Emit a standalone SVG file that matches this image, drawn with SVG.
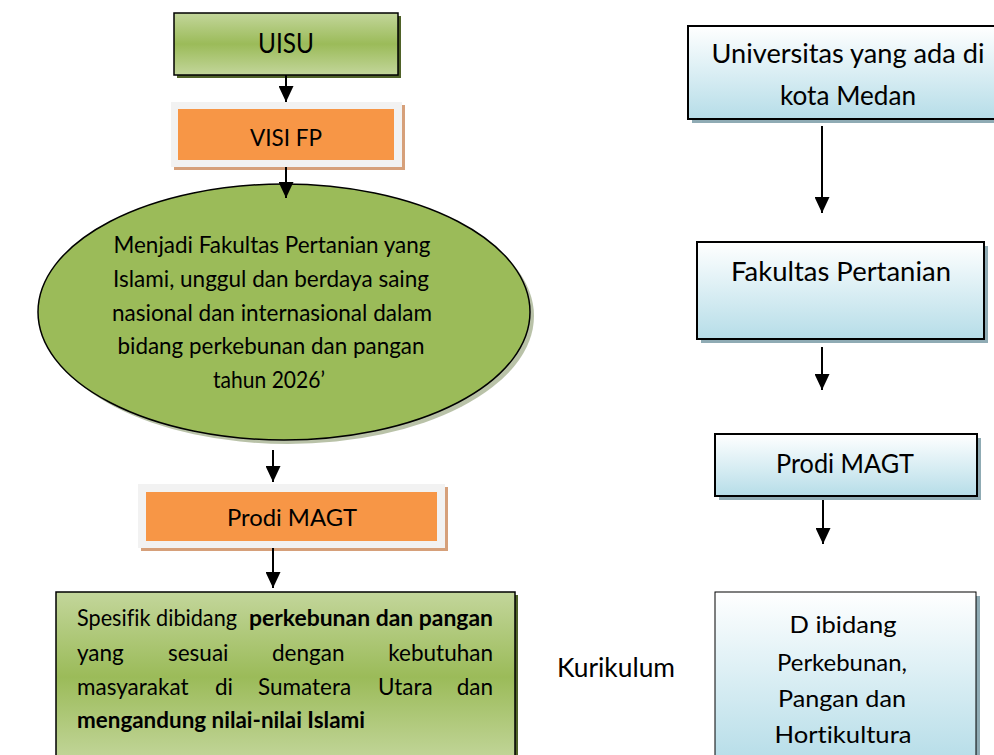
<svg xmlns="http://www.w3.org/2000/svg" width="994" height="755" viewBox="0 0 994 755">
<defs>
<linearGradient id="gGreen" x1="0" y1="0" x2="0" y2="1">
<stop offset="0" stop-color="#c3d69b"/>
<stop offset="0.5" stop-color="#9bbb59"/>
<stop offset="1" stop-color="#c3d69b"/>
</linearGradient>
<linearGradient id="gBlue" x1="0" y1="0" x2="0" y2="1">
<stop offset="0" stop-color="#ffffff"/>
<stop offset="0.45" stop-color="#def0f5"/>
<stop offset="1" stop-color="#b6dde8"/>
</linearGradient>
<marker id="arr" viewBox="0 0 16 15" refX="16" refY="7.5" markerWidth="16" markerHeight="15" markerUnits="userSpaceOnUse" orient="auto">
<path d="M0,0 L16,7.5 L0,15 z" fill="#000"/>
</marker>
</defs>
<style>
text{font-family:Lato,"Open Sans","Liberation Sans",sans-serif;fill:#000;font-variant-ligatures:none;}
.c{text-anchor:middle;}
.e{text-anchor:end;}
.b{font-weight:bold;}
.gbox{fill:url(#gGreen);stroke:#000;stroke-width:1.5;}
.gsh{fill:#4f6228;}
.bbox{fill:url(#gBlue);stroke:#000;stroke-width:2;}
.bsh{fill:#8fabb4;}
.oframe{fill:#f2f2f2;}
.osh{fill:#d6a07a;}
.orect{fill:#f79646;}
.conn line{stroke:#000;stroke-width:2;marker-end:url(#arr);}
</style>
<rect width="994" height="755" fill="#fff"/>

<g id="uisu">
<rect class="gsh" x="177" y="16" width="224" height="62"/>
<rect class="gbox" x="174" y="13" width="224" height="62"/>
<text class="c" x="286" y="53" font-size="26" textLength="56" lengthAdjust="spacingAndGlyphs">UISU</text>
</g>

<g id="visi-fp">
<rect class="osh" x="174" y="105" width="231" height="65"/>
<rect class="oframe" x="171" y="102" width="231" height="65"/>
<rect class="orect" x="178" y="109" width="216" height="51"/>
<text class="c" x="286" y="146" font-size="23.5" textLength="72" lengthAdjust="spacingAndGlyphs">VISI FP</text>
</g>

<g id="visi-text">
<ellipse cx="288" cy="316" rx="246" ry="128" fill="#7f9060" opacity="0.55"/>
<ellipse cx="284" cy="312" rx="246" ry="128" fill="#9bbb59" stroke="#000" stroke-width="1.5"/>
<text class="c" x="272" y="253" font-size="22.5" textLength="317" lengthAdjust="spacingAndGlyphs">Menjadi Fakultas Pertanian yang</text>
<text class="c" x="271" y="287" font-size="22.5" textLength="316" lengthAdjust="spacingAndGlyphs">Islami, unggul dan berdaya saing</text>
<text class="c" x="272" y="321" font-size="22.5" textLength="320" lengthAdjust="spacingAndGlyphs">nasional dan internasional dalam</text>
<text class="c" x="271" y="354" font-size="22.5" textLength="307" lengthAdjust="spacingAndGlyphs">bidang perkebunan dan pangan</text>
<text class="c" x="269" y="388" font-size="22.5" textLength="112" lengthAdjust="spacingAndGlyphs">tahun 2026’</text>
</g>

<g id="prodi-magt-left">
<rect class="osh" x="141" y="487" width="307" height="64"/>
<rect class="oframe" x="138" y="484" width="307" height="64"/>
<rect class="orect" x="146" y="492" width="291" height="49"/>
<text class="c" x="292" y="526" font-size="23.5" textLength="130" lengthAdjust="spacingAndGlyphs">Prodi MAGT</text>
</g>

<g id="spesifik">
<rect class="gsh" x="59" y="595" width="459" height="170"/>
<rect class="gbox" x="56" y="592" width="459" height="170"/>
<text x="77" y="626" font-size="22.5" textLength="160" lengthAdjust="spacingAndGlyphs">Spesifik dibidang</text>
<text class="b" x="249" y="626" font-size="22.5" textLength="244" lengthAdjust="spacingAndGlyphs">perkebunan dan pangan</text>
<text x="77" y="661" font-size="22.5">yang</text>
<text x="168" y="661" font-size="22.5">sesuai</text>
<text x="272" y="661" font-size="22.5">dengan</text>
<text class="e" x="493" y="661" font-size="22.5">kebutuhan</text>
<text x="77" y="695" font-size="22.5">masyarakat</text>
<text x="215" y="695" font-size="22.5">di</text>
<text x="258" y="695" font-size="22.5">Sumatera</text>
<text x="378" y="695" font-size="22.5">Utara</text>
<text class="e" x="493" y="695" font-size="22.5">dan</text>
<text class="b" x="77" y="728" font-size="22.5" textLength="288" lengthAdjust="spacingAndGlyphs">mengandung nilai-nilai Islami</text>
</g>

<g id="universitas">
<rect class="bsh" x="692" y="30" width="310" height="93"/>
<rect class="bbox" x="688" y="26" width="310" height="93"/>
<text class="c" x="848" y="63" font-size="26.5" textLength="273" lengthAdjust="spacingAndGlyphs">Universitas yang ada di</text>
<text class="c" x="848" y="105" font-size="26.5" textLength="136" lengthAdjust="spacingAndGlyphs">kota Medan</text>
</g>

<g id="fakultas">
<rect class="bsh" x="701" y="246" width="287" height="97"/>
<rect class="bbox" x="697" y="242" width="287" height="97"/>
<text class="c" x="841" y="281" font-size="26.5" textLength="220" lengthAdjust="spacingAndGlyphs">Fakultas Pertanian</text>
</g>

<g id="prodi-magt-right">
<rect class="bsh" x="719" y="438" width="262" height="62"/>
<rect class="bbox" x="715" y="434" width="262" height="62"/>
<text class="c" x="845" y="473" font-size="26.5" textLength="138" lengthAdjust="spacingAndGlyphs">Prodi MAGT</text>
</g>

<g id="kurikulum-label">
<text x="557" y="677" font-size="26.5" textLength="118" lengthAdjust="spacingAndGlyphs">Kurikulum</text>
</g>

<g id="bidang">
<rect class="bsh" x="719" y="596" width="261" height="170"/>
<rect x="715" y="592" width="261" height="170" fill="url(#gBlue)" stroke="#000" stroke-width="1"/>
<text class="c" x="843" y="633" font-size="23.5" textLength="107" lengthAdjust="spacingAndGlyphs">D ibidang</text>
<text class="c" x="842" y="671" font-size="23.5" textLength="130" lengthAdjust="spacingAndGlyphs">Perkebunan,</text>
<text class="c" x="842" y="707" font-size="23.5" textLength="128" lengthAdjust="spacingAndGlyphs">Pangan dan</text>
<text class="c" x="843" y="743" font-size="23.5" textLength="137" lengthAdjust="spacingAndGlyphs">Hortikultura</text>
</g>

<g id="connectors" class="conn">
<line x1="286" y1="75" x2="286" y2="102"/>
<line x1="286" y1="167" x2="286" y2="198"/>
<line x1="273" y1="450" x2="273" y2="482"/>
<line x1="273" y1="548" x2="273" y2="588"/>
<line x1="822" y1="126" x2="822" y2="213"/>
<line x1="822" y1="347" x2="822" y2="390"/>
<line x1="823" y1="500" x2="823" y2="544"/>
</g>
</svg>
